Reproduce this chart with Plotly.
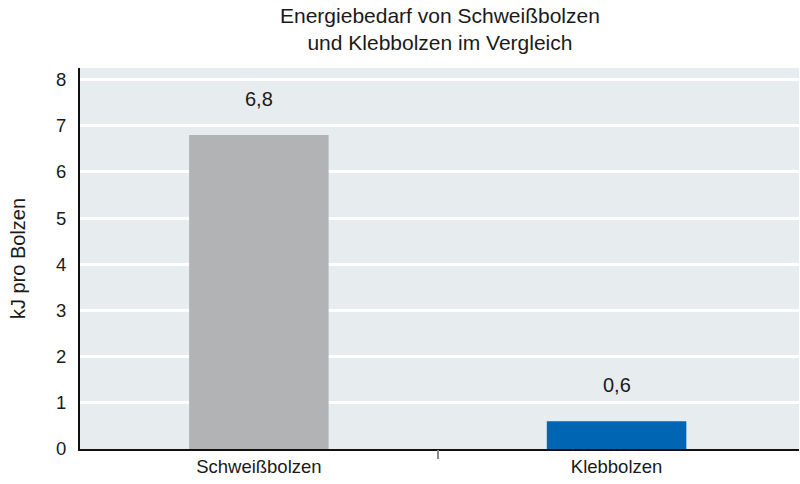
import plotly.graph_objects as go

categories = ["Schweißbolzen", "Klebbolzen"]
values = [6.8, 0.6]
colors = ["#b2b3b5", "#0066b3"]
y_ticks = [0, 1, 2, 3, 4, 5, 6, 7, 8]
divider_ticks = [0.5]

x_range = [-0.5, 1.51]

fig = go.Figure()
fig.add_trace(go.Bar(
    x=categories, y=values, marker=dict(color=colors, line=dict(width=0)),
    width=0.39, hoverinfo="skip", showlegend=False,
))
# invisible trace to activate the divider-tick axis
fig.add_trace(go.Scatter(x=divider_ticks, y=[0], xaxis="x2", mode="markers",
                         marker=dict(opacity=0), hoverinfo="skip", showlegend=False))

for c, v in zip(categories, values):
    fig.add_annotation(x=c, y=v, text=f"{v:.1f}".replace(".", ","),
                       showarrow=False, yanchor="bottom", yshift=23,
                       font=dict(size=20, color="#1a1a1a"))

fig.add_annotation(text="Energiebedarf von Schweißbolzen<br>und Klebbolzen im Vergleich",
                   xref="paper", yref="paper", x=0.5, y=1.102, xanchor="center",
                   yanchor="middle", showarrow=False,
                   font=dict(size=21, color="#1a1a1a"))

fig.update_layout(
    width=800, height=484,
    margin=dict(l=80, r=1, t=68, b=35),
    paper_bgcolor="white",
    plot_bgcolor="#e7ecef",
    font=dict(family="Liberation Sans, Arial, sans-serif", color="#1a1a1a"),
    bargap=0.6,
    xaxis=dict(
        type="category", range=x_range, ticks="",
        showline=True, linecolor="#111111", linewidth=2,
        showgrid=False, tickfont=dict(size=18.5, color="#1a1a1a"),
    ),
    xaxis2=dict(overlaying="x", range=x_range, tickvals=divider_ticks,
                showticklabels=False, ticks="outside", ticklen=9, tickwidth=2,
                tickcolor="#8a8a8a", showgrid=False, showline=False, zeroline=False,
                side="bottom"),
)
fig.update_yaxes(
    range=[0, 8.25], tickvals=y_ticks,
    showline=True, linecolor="#111111", linewidth=2,
    showgrid=True, gridcolor="white", gridwidth=3,
    zeroline=False, ticks="", ticklen=0, ticklabelstandoff=8,
    tickfont=dict(size=18.5, color="#1a1a1a"),
    title=dict(text="kJ pro Bolzen", font=dict(size=20, color="#1a1a1a"), standoff=25),
)

fig.write_html("out.html")
